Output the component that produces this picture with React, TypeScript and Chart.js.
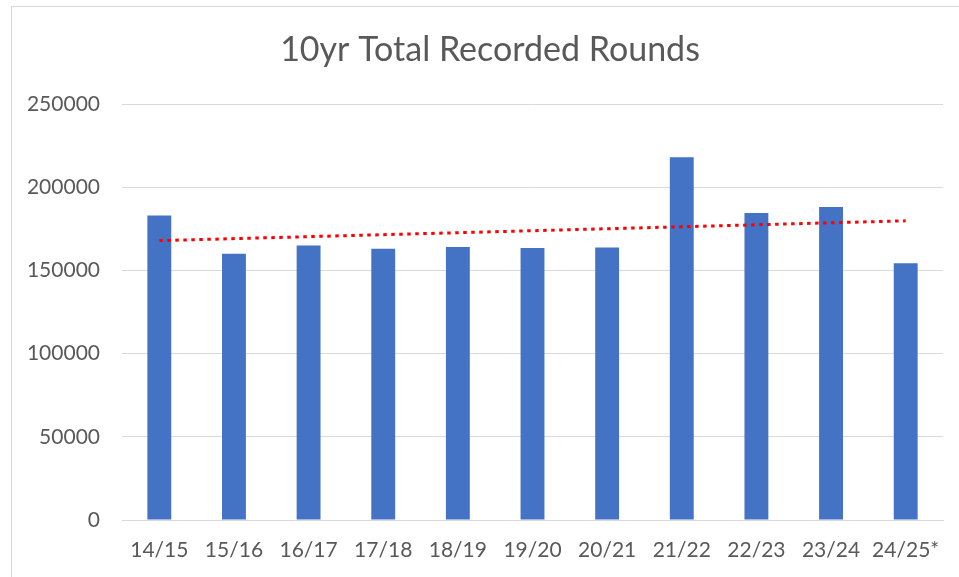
import React, { useEffect, useRef } from "react";
import { Chart, registerables } from "chart.js";

Chart.register(...registerables);

const titleText = "10yr Total Recorded Rounds";
const categories = ["14/15", "15/16", "16/17", "17/18", "18/19", "19/20", "20/21", "21/22", "22/23", "23/24", "24/25*"];
const roundsValues = [183000, 160000, 165000, 163000, 164000, 163500, 163700, 218000, 184500, 188100, 154250];
// Linear trendline: only its two ends are given, joined by a straight line
const trendValues: (number | null)[] = [167900, null, null, null, null, null, null, null, null, null, 179800];
const yMin = 0;
const yMax = 250000;
const yStep = 50000;

const FONT = "Lato";
const TEXT = "#595959";
const GRID = "#D9D9D9";

// Outer chart frame (extends past the picture on the right and bottom) and a title
// centred on that frame, as in the original spreadsheet chart.
const framePlugin = {
  id: "frame",
  beforeDraw(chart: any) {
    const ctx = chart.ctx;
    ctx.save();
    ctx.fillStyle = "#ffffff";
    ctx.fillRect(0, 0, chart.width, chart.height);
    ctx.strokeStyle = GRID;
    ctx.lineWidth = 1;
    ctx.strokeRect(11.5, 6.5, 3000, 3000);
    ctx.restore();
  },
  afterDraw(chart: any) {
    const ctx = chart.ctx;
    ctx.save();
    ctx.fillStyle = TEXT;
    ctx.font = `normal 34px ${FONT}`;
    ctx.textAlign = "center";
    ctx.textBaseline = "middle";
    ctx.fillText(titleText, 490, 50.5);
    ctx.restore();
  },
};

export default function App() {
  const ref = useRef<HTMLCanvasElement | null>(null);

  useEffect(() => {
    if (!ref.current) return;
    const chart = new Chart(ref.current, {
      type: "bar",
      data: {
        labels: categories,
        datasets: [
          {
            type: "line",
            label: "Trend",
            data: trendValues,
            spanGaps: true,
            borderColor: "#FF0000",
            borderWidth: 3,
            borderDash: [3.5, 4.5],
            borderCapStyle: "butt",
            pointRadius: 0,
            fill: false,
            order: 0,
          } as any,
          {
            type: "bar",
            label: "Rounds",
            data: roundsValues,
            backgroundColor: "#4472C4",
            borderWidth: 0,
            barPercentage: 1,
            categoryPercentage: 0.32,
            order: 1,
          },
        ],
      },
      options: {
        responsive: false,
        animation: false,
        layout: { padding: { left: 0, right: 16, top: 104, bottom: 0 } },
        plugins: {
          legend: { display: false },
          tooltip: { enabled: false },
          title: { display: false },
        },
        scales: {
          x: {
            offset: true,
            grid: { display: false, drawTicks: false },
            border: { display: true, color: GRID, width: 1 },
            ticks: {
              color: TEXT,
              font: { family: FONT, size: 21, lineHeight: 1.2 },
              padding: 18,
              maxRotation: 0,
              autoSkip: false,
            },
            afterFit(scale: any) {
              scale.height = 57;
            },
          },
          y: {
            min: yMin,
            max: yMax,
            grid: { color: GRID, lineWidth: 1, drawTicks: false },
            border: { display: false },
            ticks: {
              stepSize: yStep,
              color: TEXT,
              font: { family: FONT, size: 21, lineHeight: 1.2 },
              padding: 22,
              callback: (v: any) => String(v),
            },
            afterFit(scale: any) {
              scale.width = 122;
            },
          },
        },
      },
      plugins: [framePlugin],
    });
    return () => chart.destroy();
  }, []);

  return (
    <div style={{ position: "fixed", left: 0, top: 0, width: 959, height: 577, overflow: "hidden", background: "#fff" }}>
      <canvas ref={ref} width={959} height={577} style={{ display: "block" }} />
    </div>
  );
}
